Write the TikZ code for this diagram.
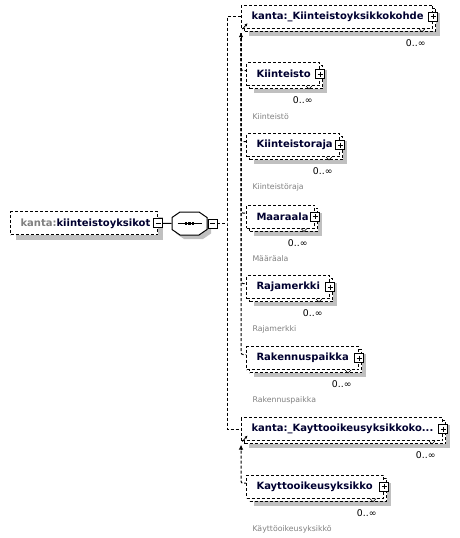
\documentclass[tikz,border=0pt]{standalone}
\usepackage{fontspec}
\setmainfont{DejaVu Sans}
\usetikzlibrary{shadows,arrows.meta}

\hyphenpenalty=10000
\exhyphenpenalty=10000

\definecolor{shadowgray}{RGB}{192,192,192}
\definecolor{namecol}{RGB}{0,0,48}
\definecolor{prefixgray}{RGB}{128,128,128}
\definecolor{notegray}{RGB}{128,128,128}

\begin{document}
\begin{tikzpicture}[x=1pt, y=-1pt, line width=1pt,
    conn/.style={dash pattern=on 3pt off 2pt},
    elem/.style={draw, dash pattern=on 3pt off 2pt, fill=white, anchor=west,
      minimum width=#1pt, text width=#1pt-20pt, minimum height=23pt,
      inner xsep=10pt, inner ysep=0pt, align=left, text=namecol,
      font=\fontsize{10}{12}\selectfont\bfseries},
    single/.style={drop shadow={shadow xshift=5pt, shadow yshift=-5pt,
      fill=shadowgray, opacity=1}},
    multi/.style={drop shadow={shadow xshift=7.5pt, shadow yshift=-7.5pt,
      fill=shadowgray, opacity=1},
      copy shadow={shadow xshift=3pt, shadow yshift=-3pt, draw=black,
      fill=white, dash pattern=on 3pt off 2pt}},
    pmbox/.style={draw, solid, fill=white, minimum size=9pt, inner sep=0pt, line width=0.8pt},
    minusbox/.style={pmbox, path picture={
      \draw ([xshift=2pt]path picture bounding box.west) -- ([xshift=-2pt]path picture bounding box.east);}},
    plusbox/.style={pmbox, path picture={
      \draw ([xshift=2pt]path picture bounding box.west) -- ([xshift=-2pt]path picture bounding box.east);
      \draw ([yshift=-2pt]path picture bounding box.north) -- ([yshift=2pt]path picture bounding box.south);}},
    seqbox/.style={minimum width=35pt, minimum height=23pt, inner sep=0pt},
    occurs/.style={anchor=east, inner sep=0pt, font=\fontsize{9.3}{10}\selectfont},
    occtick/.style={solid, line width=0.6pt},
    note/.style={anchor=west, inner sep=0pt, text=notegray,
      font=\fontsize{7.8}{9}\selectfont}]

  \useasboundingbox (0,0) rectangle (460,538);

  % root element and sequence
  \node[elem=147, single] (root) at (10,223.3) {{\color{prefixgray}kanta:}kiinteistoyksikot};
  \node[minusbox] (root-minus) at (root.east) {};
  \node[seqbox] (seq) at (189.5,223.5) {};
  \fill[shadowgray, shift={(seq.center)}, xshift=4pt, yshift=-4pt]
    (-17.5,-6) -- (-9.5,-11.5) -- (9.5,-11.5) -- (17.5,-6) -- (17.5,6) -- (9.5,11.5) -- (-9.5,11.5) -- (-17.5,6) -- cycle;
  \draw[fill=white, shift={(seq.center)}]
    (-17.5,-6) -- (-9.5,-11.5) -- (9.5,-11.5) -- (17.5,-6) -- (17.5,6) -- (9.5,11.5) -- (-9.5,11.5) -- (-17.5,6) -- cycle;
  \draw[line width=0.8pt] ([xshift=-12pt]seq.center) -- ([xshift=12pt]seq.center);
  \foreach \dx in {-3.5,0,3.5}
    \fill[shift={(seq.center)}] (\dx-1.2,-1.2) rectangle (\dx+1.2,1.2);
  \node[minusbox] (seq-minus) at ([xshift=5pt]seq.east) {};
  \coordinate (trunk) at (227,223.5);

  % substitution group heads
  \node[elem=191, multi] (kiinteistokohde) at (241,16.7) {kanta:\_Kiinteistoyksikkokohde};
  \node[elem=201, multi] (kayttokohde) at (241,429) {kanta:\_Kayttooikeusyksikkoko...};

  % members
  \node[elem=73, multi] (kiinteisto) at (246,74) {Kiinteisto};
  \node[elem=93, multi] (kiinteistoraja) at (246,145) {Kiinteistoraja};
  \node[elem=68, multi] (maaraala) at (246,216.5) {Maaraala};
  \node[elem=83, multi] (rajamerkki) at (246,287) {Rajamerkki};
  \node[elem=112, multi] (rakennuspaikka) at (246,358) {Rakennuspaikka};
  \node[elem=137, multi] (kayttooikeusyksikko) at (246,486.7) {Kayttooikeusyksikko};

  \foreach \m in {kiinteistokohde,kiinteisto,kiinteistoraja,maaraala,rajamerkki,rakennuspaikka,kayttokohde,kayttooikeusyksikko} {
    \node[plusbox] (\m-plus) at (\m.east) {};
    \node[occurs] (\m-occ) at ([xshift=-7pt,yshift=-14.5pt]\m.south east) {0..∞};
    \draw[occtick] ([xshift=-14pt]\m.south east) -- ++(3,3) -- ++(3,-3);
  }

  \foreach \m/\t in {kiinteisto/Kiinteistö,kiinteistoraja/Kiinteistöraja,maaraala/Määräala,
      rajamerkki/Rajamerkki,rakennuspaikka/Rakennuspaikka,kayttooikeusyksikko/Käyttöoikeusyksikkö}
    \node[note] (\m-note) at ([xshift=6pt,yshift=-30.5pt]\m.south west) {\t};

  % connectors
  \draw (root-minus.east) -- (seq.west);
  \draw[conn] (seq-minus.east) -- (trunk);
  \draw[conn] (kiinteistokohde.west) -| (trunk) |- (kayttokohde.west);

  \coordinate (kohde-tip) at ([yshift=-4.5pt]kiinteistokohde.south west);
  \coordinate (kaytto-tip) at ([yshift=-4.5pt]kayttokohde.south west);
  \foreach \m in {kiinteisto,kiinteistoraja,maaraala,rajamerkki,rakennuspaikka}
    \draw[conn, rounded corners=2pt] (kohde-tip) |- ([yshift=3.5pt]\m.west);
  \draw[conn, rounded corners=2pt] (kaytto-tip) |- ([yshift=3.5pt]kayttooikeusyksikko.west);

  \foreach \h/\t in {kiinteistokohde/kohde-tip,kayttokohde/kaytto-tip} {
    \draw[-{Triangle[length=4pt,width=4pt]}] ([yshift=-4pt]\t) -- (\t);
    \draw[line width=0.8pt, -{Latex[length=3pt,width=3pt]}] ([xshift=1.5pt,yshift=-0.5pt]\h.south west) -- ++(5,-6);
  }
\end{tikzpicture}
\end{document}
